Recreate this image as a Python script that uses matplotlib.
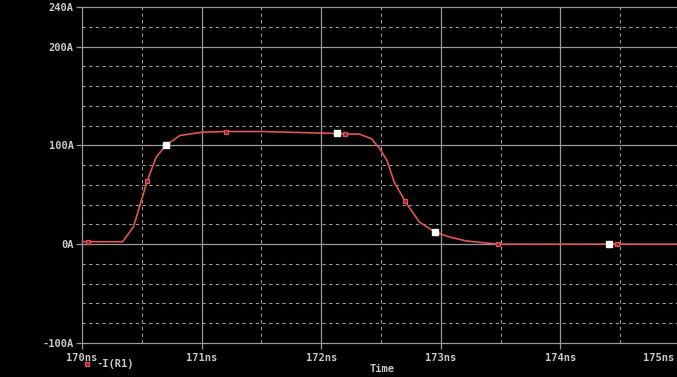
import numpy as np
import matplotlib
matplotlib.use('Agg')
import matplotlib.pyplot as plt
import matplotlib.transforms as mtransforms

# -I(R1) trace
t_ns = [170.0, 170.34, 170.43, 170.545, 170.62, 170.70, 170.82, 171.01, 171.2, 171.5,
        171.82, 172.13, 172.2, 172.32, 172.42, 172.49, 172.55, 172.61, 172.70, 172.82,
        172.95, 173.07, 173.21, 173.48, 175.0]
i_amp = [2.5, 2.5, 17.5, 64, 88, 100, 110, 113.4, 114, 114,
         113, 112, 111.4, 111.4, 106.7, 96.6, 84.8, 63, 43.7, 22.5,
         12.4, 7.4, 3.3, 0, 0]

# trace symbols and cursor marks
sym_t = [170.05, 170.545, 171.2, 172.2, 172.70, 173.48, 174.47]
sym_i = [2.5, 64, 114, 111.4, 43.7, 0, 0]
cur_t = [170.70, 172.13, 172.95, 174.41]
cur_i = [100, 112, 12.4, 0]

x_ticks = [170, 171, 172, 173, 174, 175]
x_labels = ['170ns', '171ns', '172ns', '173ns', '174ns', '175ns']
y_ticks = [-100, 0, 100, 200, 240]
y_labels = ['-100A', '0A', '100A', '200A', '240A']

fg = '#c8c8c8'
grid_c = '#9a9a9a'
trace_c = '#e05555'
font = dict(family='DejaVu Sans Mono', fontsize=7.5, fontweight='bold', color=fg)

fig = plt.figure(figsize=(6.77, 3.77), dpi=100, facecolor='black')
ax = fig.add_axes([82 / 677, 34 / 377, 598 / 677, 336 / 377], facecolor='black')

ax.set_xlim(170, 175)
ax.set_ylim(-100, 240)

# solid major grid, dashed minor grid
for x in x_ticks[1:]:
    ax.axvline(x, color=grid_c, lw=0.9, zorder=1)
for x in np.arange(170.5, 175, 1.0):
    ax.axvline(x, color=grid_c, lw=0.8, ls=(0, (3, 3)), zorder=1)
for y in [0, 100, 200]:
    ax.axhline(y, color=grid_c, lw=0.9, zorder=1)
for y in np.arange(-80, 240, 20):
    if y % 100 != 0:
        ax.axhline(y, color=grid_c, lw=0.8, ls=(0, (3, 3)), zorder=1)

ax.plot(t_ns, i_amp, color=trace_c, lw=1.2, zorder=3)
ax.plot(sym_t, sym_i, ls='none', marker='s', ms=3.5, mfc='#8a2a2a',
        mec=trace_c, mew=0.9, zorder=4)
ax.plot(cur_t, cur_i, ls='none', marker='s', ms=4, mfc='white',
        mec='white', zorder=5)

for side in ['left', 'bottom', 'top', 'right']:
    ax.spines[side].set_color(grid_c)
    ax.spines[side].set_linewidth(0.9)

ax.set_xticks(x_ticks)
ax.set_xticklabels(x_labels, **font)
ax.set_yticks(y_ticks)
ax.set_yticklabels(y_labels, **font)
ax.tick_params(axis='both', colors=grid_c, length=4, width=0.9, pad=2)
ax.tick_params(axis='x', labelcolor=fg, pad=3)
ax.tick_params(axis='y', labelcolor=fg)

# last time label is pulled in so it stays on the canvas
last = ax.get_xticklabels()[-1]
last.set_transform(last.get_transform() +
                   mtransforms.ScaledTranslation(-0.21, 0, fig.dpi_scale_trans))

fig.text(382 / 677, 3 / 377, 'Time', ha='center', va='bottom', **font)
fig.text(97 / 677, 13 / 377, '-I(R1)', ha='left', va='center', **font)
fig.lines.append(plt.Line2D([87 / 677], [13 / 377], transform=fig.transFigure,
                            ls='none', marker='s', ms=3.5, mfc='#8a2a2a',
                            mec=trace_c, mew=0.9))

fig.savefig('out.png', dpi=100, facecolor='black')
